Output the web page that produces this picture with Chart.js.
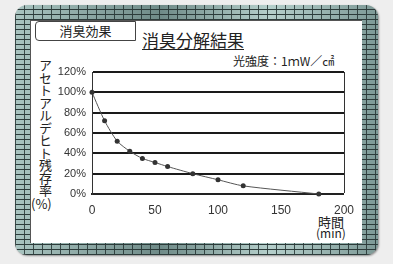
<!DOCTYPE html>
<html>
<head>
<meta charset="utf-8">
<script src="https://cdn.jsdelivr.net/npm/chart.js@4/dist/chart.umd.min.js"></script>
<style>
  html, body { margin: 0; padding: 0; }
  body {
    width: 393px; height: 264px; position: relative; overflow: hidden;
    background: #eeeeee;
    font-family: "Noto Sans CJK JP", "Noto Sans", sans-serif;
    color: #222;
  }
  #frame {
    position: absolute; left: 15px; top: 5px; width: 363px; height: 250px;
    border-radius: 12px;
    background-color: #7f9c99;
    background-image:
      repeating-linear-gradient(0deg, #2c3b3a 0 1px, transparent 1px 5px),
      repeating-linear-gradient(90deg, rgba(30,45,44,.8) 0 1px, transparent 1px 9px),
      linear-gradient(90deg, #a9c4c0, #6f8b88 40%, #b5cfcb 70%, #7d9996);
    box-shadow: 1px 1px 2px rgba(0,0,0,.4);
  }
  #panel {
    position: absolute; left: 30px; top: 20px; width: 332px; height: 223px;
    background: #fff;
    box-shadow: inset 1px 1px 0 #555;
  }
  .txt { position: absolute; white-space: nowrap; line-height: 1; }
  #tag {
    position: absolute; left: 35px; top: 21px; width: 99px; height: 18px;
    border: 1px solid #444; border-radius: 4px 0 0 4px; background: #fff;
    font-size: 13px; text-align: center; line-height: 18px;
  }
  #title { left: 142px; top: 31px; font-size: 17px; text-decoration: underline; text-underline-offset: 2px; }
  #light { left: 233px; top: 55px; font-size: 12px; }
  #ytitle {
    left: 38px; top: 59px; font-size: 13px; width: 14px;
    writing-mode: vertical-rl; letter-spacing: -0.5px;
  }
  #ypct { left: 31px; top: 197px; font-size: 13px; }
  #xt1 { left: 318px; top: 215px; font-size: 13px; }
  #xt2 { left: 316px; top: 227px; font-size: 12px; }
  canvas { position: absolute; left: 0; top: 0; }
</style>
</head>
<body>
<div id="frame"></div>
<div id="panel"></div>
<div id="tag">消臭効果</div>
<div class="txt" id="title">消臭分解結果</div>
<div class="txt" id="light">光強度：1ｍW／㎠</div>
<div class="txt" id="ytitle">アセトアルデヒト残存率</div>
<div class="txt" id="ypct">(%)</div>
<div class="txt" id="xt1">時間</div>
<div class="txt" id="xt2">(min)</div>
<canvas id="c" width="393" height="264"></canvas>
<script>
const TIMES = [0, 10, 20, 30, 40, 50, 60, 80, 100, 120, 180];
const RESIDUAL = [100, 72, 52, 42, 35, 31, 27, 20, 14, 8, 0];
const X_TICKS = [0, 50, 100, 150, 200];
const Y_TICKS = [0, 20, 40, 60, 80, 100, 120];

new Chart(document.getElementById('c'), {
  type: 'line',
  data: {
    datasets: [{
      data: TIMES.map((t, i) => ({ x: t, y: RESIDUAL[i] })),
      borderColor: '#555',
      borderWidth: 1,
      tension: 0.25,
      clip: false,
      pointRadius: 2.5,
      pointBackgroundColor: '#333',
      pointBorderColor: '#333',
      pointBorderWidth: 0
    }]
  },
  options: {
    responsive: false,
    animation: false,
    layout: { padding: { left: 0, top: 72, right: 49, bottom: 0 } },
    plugins: { legend: { display: false }, tooltip: { enabled: false } },
    scales: {
      x: {
        type: 'linear', min: 0, max: 200,
        afterBuildTicks: s => { s.ticks = X_TICKS.map(v => ({ value: v })); },
        afterFit: s => { s.height = 70; },
        ticks: { padding: 9, color: '#333', font: { family: 'Liberation Sans', size: 12 } },
        grid: {
          drawTicks: false,
          color: '#333',
          lineWidth: c => c.tick && c.tick.value === 200 ? 1 : 0
        },
        border: { color: '#222', width: 2 }
      },
      y: {
        min: 0, max: 120,
        afterBuildTicks: s => { s.ticks = Y_TICKS.map(v => ({ value: v })); },
        afterFit: s => { s.width = 92; },
        ticks: {
          padding: 6, color: '#333',
          font: { family: 'Liberation Sans', size: 11 },
          callback: v => v + '%'
        },
        grid: { drawTicks: false, color: '#1a1a1a', lineWidth: 2 },
        border: { color: '#333', width: 1 }
      }
    }
  }
});
</script>
</body>
</html>
